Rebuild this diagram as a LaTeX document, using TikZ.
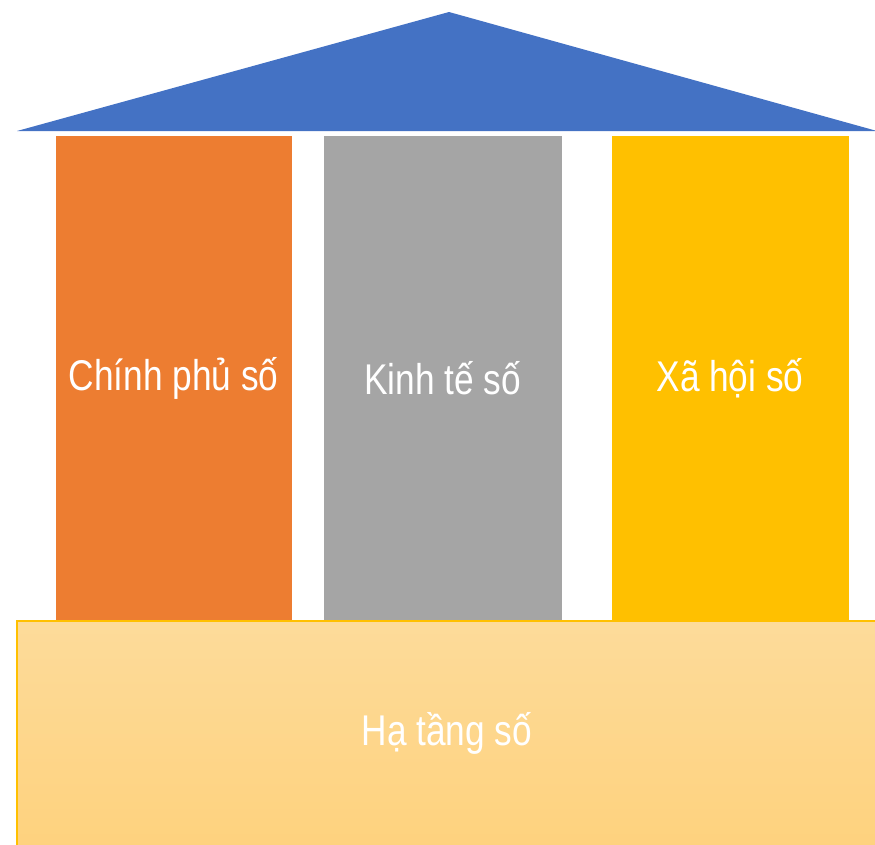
\documentclass[tikz,border=0pt]{standalone}
\usepackage{fontspec}
\setmainfont{Liberation Sans}[FakeStretch=0.82]
\usepackage{xcolor}
\usepackage{tikz}
\usetikzlibrary{positioning}

\definecolor{roofblue}{HTML}{4472C4}
\definecolor{govorange}{HTML}{ED7D31}
\definecolor{ecogray}{HTML}{A5A5A5}
\definecolor{socyellow}{HTML}{FFC000}
\definecolor{basetop}{HTML}{FDDB9A}
\definecolor{basebot}{HTML}{FED27E}

\begin{document}
\begin{tikzpicture}[
    x=1pt, y=-1pt,
    pillar/.style={rectangle, draw=white, line width=0.8pt, minimum width=237pt, minimum height=486pt, inner sep=0pt, text=white, font=\fontsize{43}{48}\selectfont},
    base/.style={rectangle, draw=socyellow, line width=1.5pt, top color=basetop, bottom color=basebot, minimum width=860pt, minimum height=225pt, inner sep=0pt, text=white, font=\fontsize{43}{48}\selectfont}
]
    \useasboundingbox (0,0) rectangle (875,844);

    % Roof
    \coordinate (roof_left) at (17,131);
    \coordinate (roof_top) at (449,12);
    \coordinate (roof_right) at (877,131);
    \fill[roofblue] (roof_left) -- (roof_top) -- (roof_right) -- cycle;

    % Pillars
    \node[pillar, fill=govorange] (gov) at (173.5,378) {\raisebox{-3pt}{Chính phủ số}};
    \node[pillar, fill=ecogray, minimum width=239pt] (eco) at (442.5,378) {\raisebox{-3pt}{Kinh tế số}};
    \node[pillar, fill=socyellow, minimum width=238pt] (soc) at (730,378) {\raisebox{-3pt}{Xã hội số}};

    % Foundation
    \node[base] (infra) at (447,733.5) {\raisebox{-5pt}{Hạ tầng số}};
\end{tikzpicture}
\end{document}
